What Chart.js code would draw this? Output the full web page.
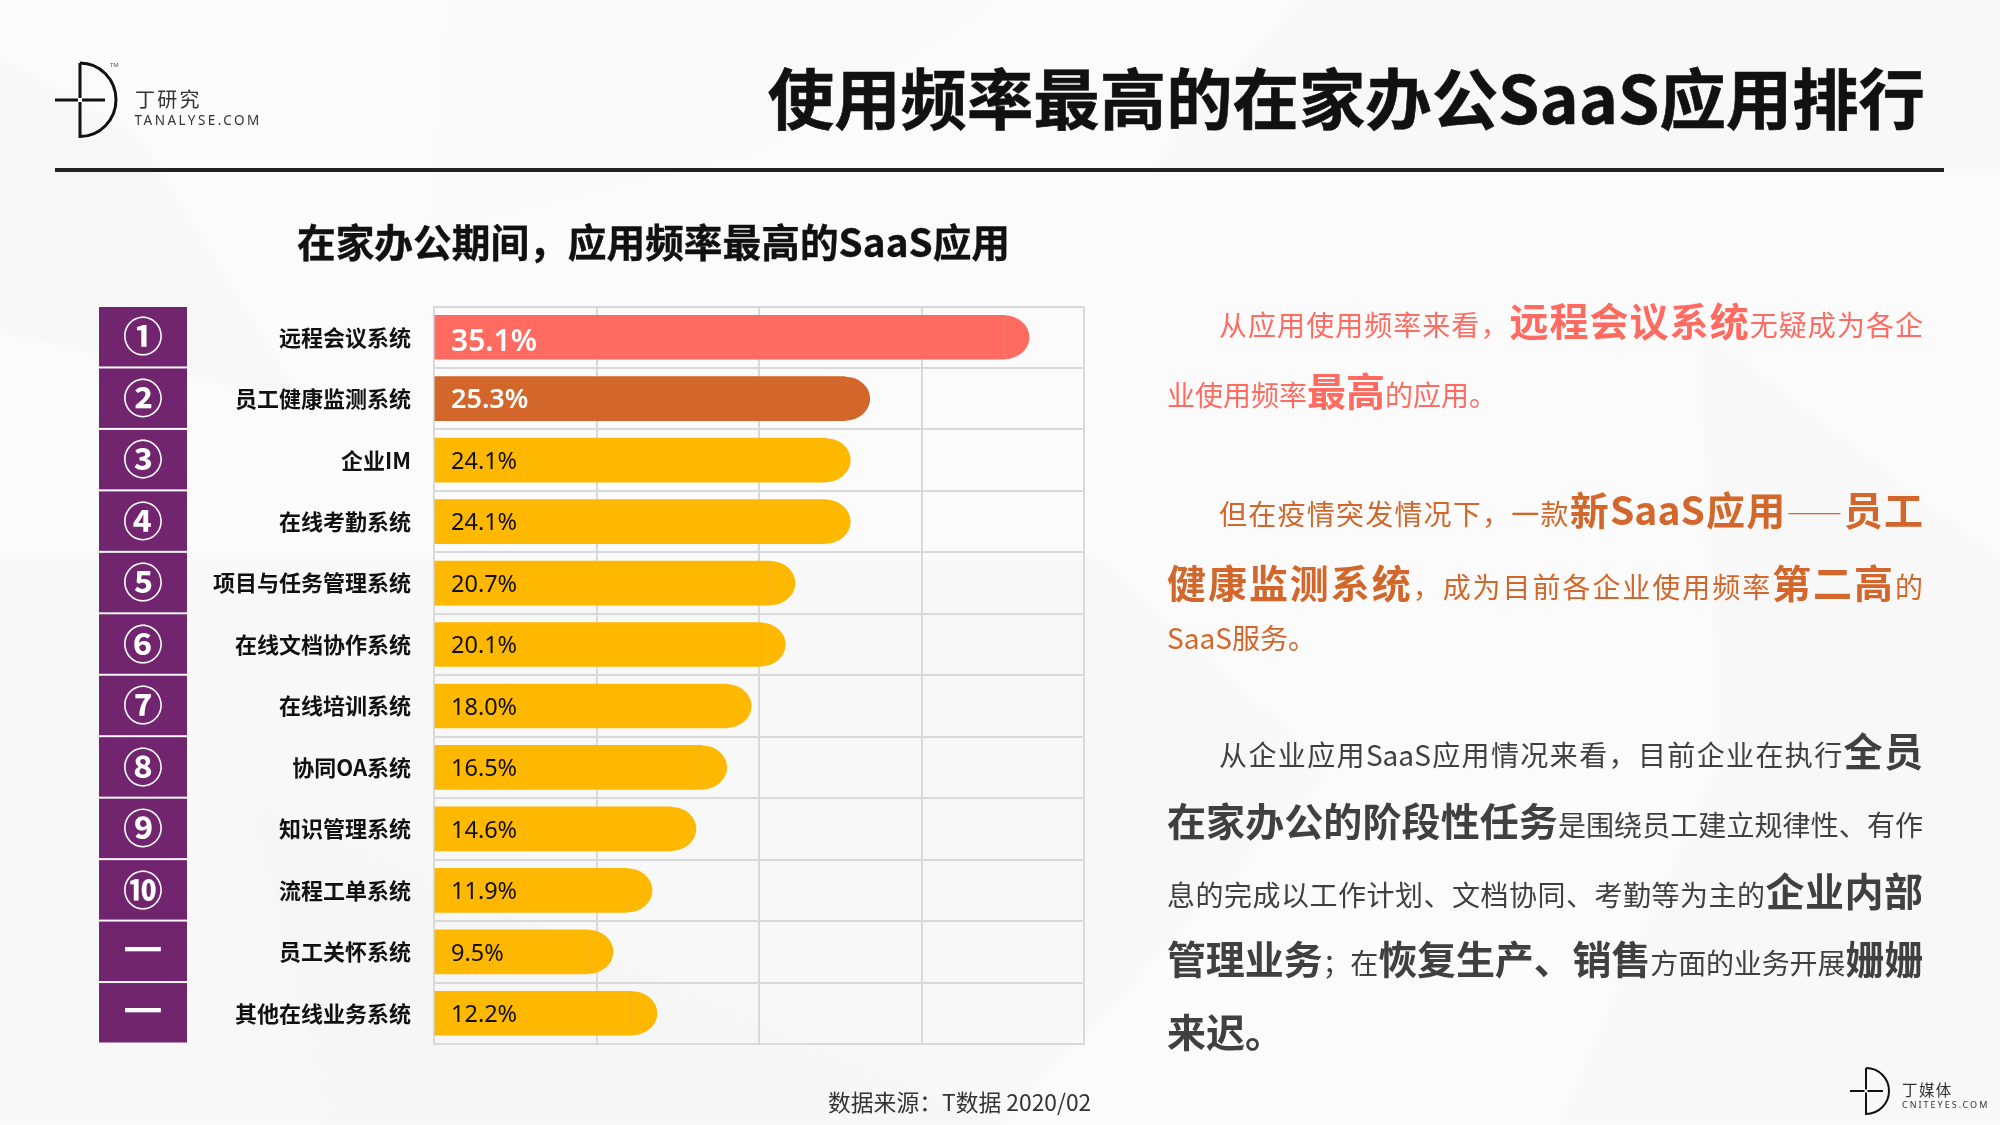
<!DOCTYPE html>
<html lang="zh-CN">
<head>
<meta charset="utf-8">
<title>使用频率最高的在家办公SaaS应用排行</title>
<script src="https://cdn.jsdelivr.net/npm/chart.js@4"></script>
<style>
  html, body { margin: 0; padding: 0; background: #fbfbfb; }
  #page { position: relative; width: 2000px; height: 1125px; overflow: hidden;
    font-family: "Noto Sans CJK SC", "Noto Sans", sans-serif; }
  #bg, #chart { position: absolute; left: 0; top: 0; }
  .t { position: absolute; white-space: nowrap; line-height: 1; }
  .line { position: absolute; right: 77px; white-space: nowrap; font-size: 28px; height: 60px; line-height: 60px; }
  .line.j { text-align: justify; text-align-last: justify; white-space: normal; }
  .line b { font-size: 39px; font-weight: 700; }
  .red { color: #ff6b60; } .org { color: #d3662a; } .gry { color: #404040; }
</style>
</head>
<body>
<div id="page">
  <svg id="bg" width="2000" height="1125" viewBox="0 0 2000 1125">
    <defs><filter id="soft"><feGaussianBlur stdDeviation="4"/></filter></defs>
    <g fill="#000" filter="url(#soft)">
      <polygon points="0,60 135,135 300,400 0,330" opacity="0.014"/>
      <polygon points="450,0 1000,0 760,150 430,230" opacity="0.006"/>
      <polygon points="1300,0 2000,0 2000,170 1150,170" opacity="0.010"/>
      <polygon points="0,560 1100,560 1330,770 1000,1125 0,1125" opacity="0.012"/>
      <polygon points="1700,330 2000,560 2000,1125 1560,1125 1720,760" opacity="0.010"/>
      <polygon points="250,800 800,1040 1000,1125 330,1125" opacity="0.010"/>
    </g>
    <g fill="none" stroke="#111" stroke-width="3">
      <path d="M80 63 V98 M80 102 V136.5 A36 36.75 0 0 0 80 63"/>
      <path d="M55 100 H78 M82 100 H105"/>
      <path d="M1866 1068 V1089.5 M1866 1092.5 V1114 A23 23 0 0 0 1866 1068" stroke-width="2"/>
      <path d="M1850 1091 H1864.5 M1867.5 1091 H1883" stroke-width="2"/>
    </g>
  </svg>

  <div class="t" style="left:135px;top:89px;font-size:20px;letter-spacing:2.2px;color:#333">丁研究</div>
  <div class="t" style="left:134.5px;top:114px;font-size:13.5px;letter-spacing:2.5px;color:#333;font-family:'Noto Sans'">TANALYSE.COM</div>
  <div class="t" style="left:110px;top:62px;font-size:6px;color:#555;font-family:'Noto Sans'">TM</div>
  <div class="t" style="right:75px;top:62px;font-size:66.4px;font-weight:700;color:#111;-webkit-text-stroke:0.6px #111">使用频率最高的在家办公SaaS应用排行</div>
  <div style="position:absolute;left:55px;top:168px;width:1889px;height:4px;background:#222"></div>
  <div class="t" style="left:297px;top:221px;font-size:38.7px;font-weight:700;color:#111;-webkit-text-stroke:0.4px #111">在家办公期间，应用频率最高的SaaS应用</div>

  <canvas id="chart" width="2000" height="1125"></canvas>

  <div class="line j red" style="left:1219px;top:289px">从应用使用频率来看，<b>远程会议系统</b>无疑成为各企</div>
  <div class="line red" style="left:1167px;top:359px">业使用频率<b>最高</b>的应用。</div>
  <div class="line j org" style="left:1219px;top:478px">但在疫情突发情况下，一款<b>新SaaS应用</b>——<b>员工</b></div>
  <div class="line j org" style="left:1167px;top:551px"><b>健康监测系统</b>，成为目前各企业使用频率<b>第二高</b>的</div>
  <div class="line org" style="left:1167px;top:607px">SaaS服务。</div>
  <div class="line j gry" style="left:1219px;top:719px">从企业应用SaaS应用情况来看，目前企业在执行<b>全员</b></div>
  <div class="line j gry" style="left:1167px;top:789px"><b>在家办公的阶段性任务</b>是围绕员工建立规律性、有作</div>
  <div class="line j gry" style="left:1167px;top:859px">息的完成以工作计划、文档协同、考勤等为主的<b>企业内部</b></div>
  <div class="line j gry" style="left:1167px;top:927px;letter-spacing:-0.25px"><b>管理业务</b>；在<b>恢复生产、销售</b>方面的业务开展<b>姗姗</b></div>
  <div class="line gry" style="left:1167px;top:1000px"><b>来迟。</b></div>

  <div class="t" style="left:828px;top:1091px;font-size:22.8px;color:#333">数据来源：T数据 2020/02</div>
  <div class="t" style="left:1902px;top:1082px;font-size:15.5px;letter-spacing:1.4px;color:#333">丁媒体</div>
  <div class="t" style="left:1902px;top:1100px;font-size:9px;letter-spacing:2px;color:#333;font-family:'Noto Sans'">CNITEYES.COM</div>
</div>

<script>
const categories = ["远程会议系统", "员工健康监测系统", "企业IM", "在线考勤系统", "项目与任务管理系统", "在线文档协作系统",
  "在线培训系统", "协同OA系统", "知识管理系统", "流程工单系统", "员工关怀系统", "其他在线业务系统"];
const values = [35.1, 25.3, 24.1, 24.1, 20.7, 20.1, 18.0, 16.5, 14.6, 11.9, 9.5, 12.2];
const ranks = ["①", "②", "③", "④", "⑤", "⑥", "⑦", "⑧", "⑨", "⑩", "—", "—"];

const cjk = '"Noto Sans CJK SC", "Noto Sans", sans-serif';
const barColor = (i) => (i === 0 ? "#ff6b60" : i === 1 ? "#d3662a" : "#ffb800");

// purple rank column on the left of the axis labels
const rankColumn = {
  id: "rankColumn",
  beforeDatasetsDraw(chart) {
    const { ctx, scales: { y } } = chart;
    const step = y.getPixelForValue(1) - y.getPixelForValue(0);
    ctx.save();
    ranks.forEach((r, i) => {
      const c = y.getPixelForValue(i);
      ctx.fillStyle = "#72256f";
      ctx.fillRect(99, c - step / 2 + 0.5, 88, step - 2);
      ctx.fillStyle = "#fff";
      ctx.textAlign = "center";
      ctx.textBaseline = "middle";
      ctx.font = `700 ${r === "—" ? 44 : 40}px ${cjk}`;
      ctx.fillText(r, 143, c + (r === "—" ? -6.5 : -1));
    });
    ctx.restore();
  },
};

// rounded cap past the value, then the percentage inside the bar
const barCaps = {
  id: "barCaps",
  afterDatasetsDraw(chart) {
    const { ctx } = chart;
    chart.getDatasetMeta(0).data.forEach((bar, i) => {
      ctx.save();
      ctx.fillStyle = barColor(i);
      ctx.beginPath();
      ctx.ellipse(bar.x, bar.y, 25, bar.height / 2, 0, -Math.PI / 2, Math.PI / 2);
      ctx.fill();
      ctx.fillStyle = "rgba(0,0,0,0.04)";
      ctx.fillRect(bar.x - 0.5, bar.y - bar.height / 2, 1, bar.height);

      ctx.textAlign = "left";
      ctx.textBaseline = "middle";
      ctx.fillStyle = i < 2 ? "#fff" : "#111";
      ctx.font = (i === 0 ? "600 30px " : i === 1 ? "600 27px " : "400 23.5px ") + '"Noto Sans", sans-serif';
      ctx.fillText(values[i].toFixed(1) + "%", 451, bar.y + (i === 0 ? 5 : 2));
      ctx.restore();
    });
  },
};

new Chart(document.getElementById("chart"), {
  type: "bar",
  data: {
    labels: categories,
    datasets: [{
      data: values,
      backgroundColor: values.map((v, i) => barColor(i)),
      barThickness: 44,
      borderWidth: 0,
    }],
  },
  plugins: [rankColumn, barCaps],
  options: {
    indexAxis: "y",
    responsive: false,
    animation: false,
    devicePixelRatio: 1,
    layout: { padding: { left: 0, right: 916, top: 306.5, bottom: 81 } },
    plugins: { legend: { display: false }, tooltip: { enabled: false } },
    scales: {
      x: {
        min: 0,
        max: 40,
        ticks: { stepSize: 10, display: false },
        grid: { color: "#d9d9d9", lineWidth: 2, drawTicks: false },
        border: { color: "#d9d9d9", width: 2 },
      },
      y: {
        afterFit(axis) { axis.width = 434; },
        ticks: { autoSkip: false, color: "#111", padding: 23, font: { family: cjk, size: 22, weight: "700" } },
        grid: { color: "#d9d9d9", lineWidth: 2, drawTicks: false },
        border: { color: "#d9d9d9", width: 2 },
      },
    },
  },
});
</script>
</body>
</html>
